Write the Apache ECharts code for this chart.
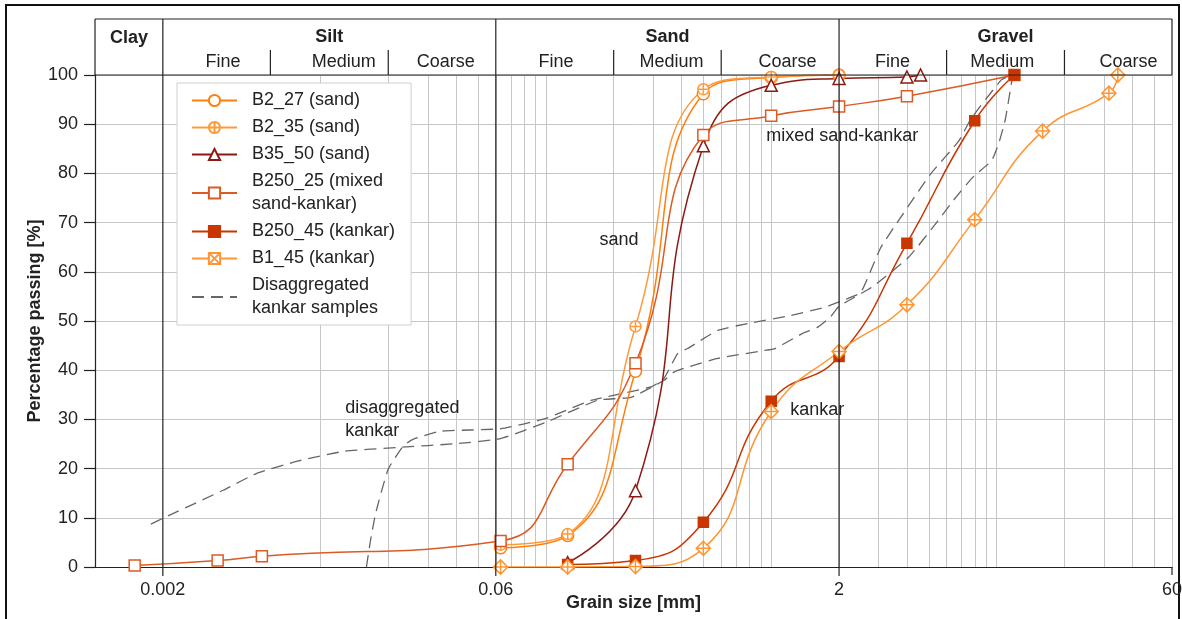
<!DOCTYPE html>
<html>
<head>
<meta charset="utf-8">
<script src="https://cdn.jsdelivr.net/npm/echarts@6/dist/echarts.min.js"></script>
<style>
  html, body { margin: 0; padding: 0; background: #fff; }
  #chart { width: 1182px; height: 619px; }
</style>
</head>
<body>
<div id="chart"></div>
<script>
// ---- grading data: grain size [mm] and percentage passing [%] ----
const b2_27Size   = [0.063, 0.125, 0.25, 0.5, 1, 2];
const b2_27Pass   = [3.9, 6.4, 39.8, 96.2, 99.5, 100];

const b2_35Size   = [0.063, 0.125, 0.25, 0.5, 1, 2];
const b2_35Pass   = [4.5, 6.7, 48.9, 97.1, 99.6, 100];

const b35_50Size  = [0.125, 0.25, 0.5, 1, 2, 4, 4.6];
const b35_50Pass  = [0.9, 15.5, 85.6, 97.9, 99.3, 99.6, 100];

const b250_25Size = [0.0015, 0.0035, 0.0055, 0.063, 0.125, 0.25, 0.5, 1, 2, 4, 12];
const b250_25Pass = [0.3, 1.3, 2.2, 5.3, 20.9, 41.4, 87.8, 91.7, 93.6, 95.7, 100];

const b250_45Size = [0.125, 0.25, 0.5, 1, 2, 4, 8, 12];
const b250_45Pass = [0.5, 1.3, 9.1, 33.7, 42.8, 65.8, 90.7, 100];

const b1_45Size   = [0.063, 0.125, 0.25, 0.5, 1, 2, 4, 8, 16, 31.5, 34.5];
const b1_45Pass   = [0, 0, 0.1, 3.8, 31.6, 43.8, 53.3, 70.6, 88.6, 96.3, 100];

// disaggregated kankar samples (unmarked dashed curves)
const disaggASize = [0.00177, 0.002, 0.0037, 0.0052, 0.0079, 0.0127, 0.022, 0.041, 0.063, 0.1, 0.17, 0.239, 0.334, 0.37, 0.425, 0.58, 0.93, 1.04, 1.38, 1.6, 1.83, 2, 2.78, 4.06, 5.5, 6.4, 7.8, 9.5, 10.2, 10.9, 11.8];
const disaggAPass = [8.7, 9.9, 15.6, 19, 21.5, 23.5, 24.3, 25.1, 26.1, 29.4, 33.9, 34.5, 37.9, 39.6, 40.6, 42.4, 44, 44.4, 47.5, 48.7, 50.8, 53, 56.8, 62.9, 70.4, 74.4, 79.1, 82.6, 86, 90.7, 100];

const disaggBSize = [0.016, 0.0167, 0.0176, 0.02, 0.0234, 0.0259, 0.0341, 0.063, 0.1, 0.16, 0.293, 0.334, 0.385, 0.425, 0.58, 0.79, 1.22, 1.73, 2.19, 2.5, 3.06, 3.67, 5.1, 6.8, 7.7, 10.5, 11.8];
const disaggBPass = [0, 5.5, 11, 19.9, 24.7, 26, 27.6, 28.1, 30.2, 33.9, 36.6, 38.3, 43.4, 44.4, 48.1, 49.5, 51.1, 52.8, 54.6, 55.8, 64.9, 70.4, 79.9, 86.6, 91.1, 99, 100];

// ---- axis and classification ----
const xMin = 0.001, xMax = 60;
const xTickLabels = [0.002, 0.06, 2, 60];
const mainLimits = [0.002, 0.06, 2];               // clay | silt | sand | gravel
const subLimits = [0.006, 0.02, 0.2, 0.6, 6, 20];   // fine | medium | coarse
const mainClasses = ['Clay', 'Silt', 'Sand', 'Gravel'];
const mainBounds = [[0.001, 0.002], [0.002, 0.06], [0.06, 2], [2, 60]];
const subClasses = ['Fine', 'Medium', 'Coarse', 'Fine', 'Medium', 'Coarse', 'Fine', 'Medium', 'Coarse'];
const subLabelAt = [0.0037, 0.0127, 0.036, 0.111, 0.361, 1.18, 3.45, 10.6, 38.5];

const FONT = "'Liberation Sans', Arial, Helvetica, sans-serif";
const INK = '#222';
const GRID = '#c6c6c6';

const C_B2_27 = '#ff7f0e';
const C_B2_35 = '#ff9a3c';
const C_B35_50 = '#8c1a12';
const C_B250_25 = '#dc5a24';
const C_B250_45 = '#c93600';
const C_B1_45 = '#ff9633';
const C_DIS = '#666666';

const CIRCLE_PLUS = 'path://M10,0A10,10,0,1,1,10,20A10,10,0,1,1,10,0Z M10,0L10,20 M0,10L20,10';
const BOX_CROSS = 'path://M0,0L20,0L20,20L0,20Z M0,0L20,20 M20,0L0,20';

const pairs = (s, p) => s.map((v, i) => [v, p[i]]);

// vertical log grid: 1..9 in every decade inside the plotted range
const gridSizes = [];
[0.001, 0.01, 0.1, 1, 10].forEach(d => {
  for (let m = 1; m <= 9; m++) {
    const v = +(m * d).toPrecision(3);
    if (v >= 0.002 && v <= 60) gridSizes.push(v);
  }
});

function measured(name, size, pass, color, symbol, symbolSize, filled, extra) {
  return Object.assign({
    name, type: 'line', data: pairs(size, pass),
    color,
    smooth: 0.5,
    symbol, symbolSize,
    showAllSymbol: true,
    lineStyle: { color, width: 1.5 },
    itemStyle: { color: filled ? color : '#fff', borderColor: color, borderWidth: 1.5 },
    emphasis: { disabled: true },
    z: 3
  }, extra || {});
}

const disaggName = 'Disaggregated\nkankar samples';
function disagg(size, pass) {
  return {
    name: disaggName, type: 'line', data: pairs(size, pass),
    color: C_DIS, smooth: 0.15, symbol: 'none',
    lineStyle: { color: C_DIS, width: 1.3, type: [12, 7] },
    emphasis: { disabled: true },
    z: 2
  };
}

const series = [
  measured('B2_27 (sand)', b2_27Size, b2_27Pass, C_B2_27, 'circle', 12, false, {
    markLine: {
      silent: true, z: 1, animation: false, symbol: ['none', 'none'],
      label: { show: false },
      lineStyle: { color: GRID, width: 1, type: 'solid' },
      emphasis: { disabled: true },
      data: gridSizes.map(v => ({ xAxis: v }))
    }
  }),
  measured('B2_35 (sand)', b2_35Size, b2_35Pass, C_B2_35, CIRCLE_PLUS, 11, false),
  measured('B35_50 (sand)', b35_50Size, b35_50Pass, C_B35_50, 'triangle', 12, false),
  measured('B250_25 (mixed\nsand-kankar)', b250_25Size, b250_25Pass, C_B250_25, 'rect', 11, false),
  measured('B250_45 (kankar)', b250_45Size, b250_45Pass, C_B250_45, 'rect', 10, true),
  measured('B1_45 (kankar)', b1_45Size, b1_45Pass, C_B1_45, BOX_CROSS, 10, false, { symbolRotate: 45 }),
  disagg(disaggASize, disaggAPass),
  disagg(disaggBSize, disaggBPass)
];

const option = {
  animation: false,
  backgroundColor: '#fff',
  textStyle: { fontFamily: FONT, color: INK },
  grid: { left: 95, right: 10, top: 75, bottom: 52, containLabel: false },
  xAxis: {
    type: 'log', logBase: 10, min: xMin, max: xMax,
    name: 'Grain size [mm]', nameLocation: 'middle', nameGap: 27,
    nameTextStyle: { fontFamily: FONT, fontSize: 18, fontWeight: 'bold', color: INK },
    axisLine: { show: true, onZero: false, lineStyle: { color: INK, width: 1.2 } },
    axisTick: { show: false },
    axisLabel: { show: false },
    splitLine: { show: false },
    minorTick: { show: false }, minorSplitLine: { show: false }
  },
  yAxis: {
    type: 'value', min: 0, max: 100, interval: 10,
    name: 'Percentage passing [%]', nameLocation: 'middle', nameGap: 51,
    nameMoveOverlap: false,
    nameTextStyle: { fontFamily: FONT, fontSize: 18, fontWeight: 'bold', color: INK },
    axisLine: { show: true, onZero: false, lineStyle: { color: INK, width: 1.2 } },
    axisTick: { show: true, inside: false, length: 11, lineStyle: { color: INK, width: 1.2 } },
    axisLabel: { fontFamily: FONT, fontSize: 18, color: INK, margin: 17 },
    splitLine: { show: true, lineStyle: { color: GRID, width: 1 } }
  },
  legend: {
    orient: 'vertical', left: 177, top: 83,
    itemWidth: 45, itemHeight: 14, itemGap: 4,
    padding: [6, 16, 5, 14],
    backgroundColor: '#fff', borderColor: '#cfcfcf', borderWidth: 1,
    symbolRotate: 0,
    textStyle: { fontFamily: FONT, fontSize: 18, lineHeight: 23, color: INK, padding: [0, 0, 0, 10] },
    data: ['B2_27 (sand)', 'B2_35 (sand)', 'B35_50 (sand)', 'B250_25 (mixed\nsand-kankar)', 'B250_45 (kankar)', 'B1_45 (kankar)',
      { name: disaggName, itemStyle: { opacity: 0 } }]
  },
  series
};

const chart = echarts.init(document.getElementById('chart'), null, { renderer: 'canvas' });
chart.setOption(option);

// ---- classification header, class limits, x tick labels, annotations ----
const px = v => chart.convertToPixel({ xAxisIndex: 0 }, v);
const py = v => chart.convertToPixel({ yAxisIndex: 0 }, v);
const pt = (x, y) => chart.convertToPixel({ xAxisIndex: 0, yAxisIndex: 0 }, [x, y]);

const xL = px(xMin), xR = px(xMax), yTop = py(100), yBot = py(0);
const hTop = yTop - 56, hSub = yTop - 25;
const els = [];
const addLine = (x1, y1, x2, y2, w) => els.push({
  type: 'line', silent: true, z: 10,
  shape: { x1, y1, x2, y2 }, style: { stroke: INK, lineWidth: w || 1.2 }
});
const addText = (t, x, y, st) => els.push({
  type: 'text', silent: true, z: 10, x, y,
  style: Object.assign({ text: t, fill: INK, fontFamily: FONT, fontSize: 18, align: 'center', verticalAlign: 'middle' }, st || {})
});

// page frame
els.push({ type: 'rect', silent: true, z: 10, shape: { x: 6, y: 5, width: 1173, height: 700 }, style: { fill: 'none', stroke: '#111', lineWidth: 2 } });

// header box
addLine(xL, hTop, xR, hTop);
addLine(xL, yTop, xR, yTop);
addLine(xL, hTop, xL, yTop);
addLine(xR, hTop, xR, yTop);
mainLimits.forEach(v => addLine(px(v), hTop, px(v), yBot + 9));
subLimits.forEach(v => addLine(px(v), hSub, px(v), yTop));
addLine(xR, yBot, xR, yBot + 8);

mainClasses.forEach((t, i) => {
  const b = mainBounds[i];
  const cx = (px(b[0]) + px(b[1])) / 2;
  addText(t, cx, i === 0 ? hTop + 19 : hTop + 18, { fontWeight: 'bold' });
});
subClasses.forEach((t, i) => addText(t, px(subLabelAt[i]), hSub + 12));

// x tick labels
xTickLabels.forEach(v => addText(String(v), px(v), yBot + 23));

// curve annotations
const annot = (t, x, y, st) => { const p = pt(x, y); addText(t, p[0], p[1], st); };
annot('sand', 0.211, 66.5);
annot('mixed sand-kankar', 0.95, 87.6, { align: 'left' });
annot('kankar', 1.215, 32, { align: 'left' });
annot('disaggregated\nkankar', 0.0129, 30, { align: 'left', lineHeight: 23 });

chart.setOption({ graphic: els });
</script>
</body>
</html>
